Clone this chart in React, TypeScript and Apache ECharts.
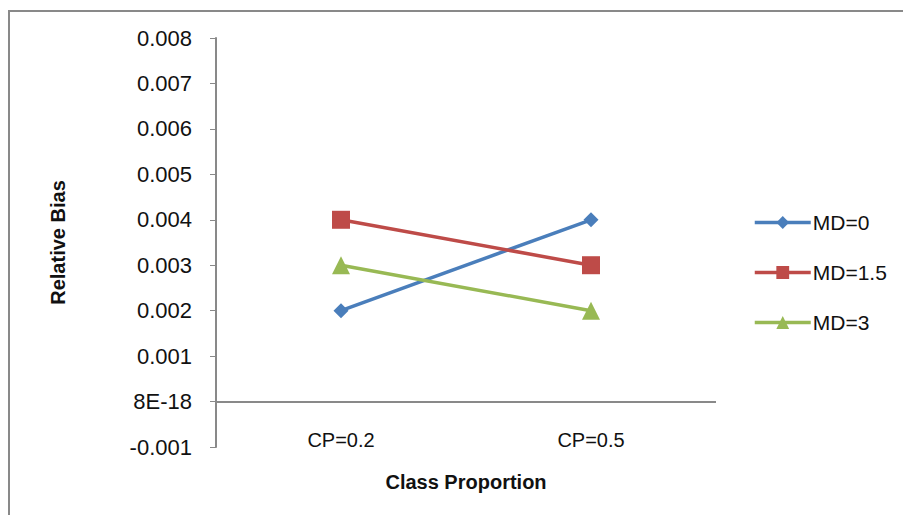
import React, { useEffect, useRef } from "react";
import * as echarts from "echarts";

const categories = ["CP=0.2", "CP=0.5"];
const md0 = [0.002, 0.004];
const md15 = [0.004, 0.003];
const md3 = [0.003, 0.002];
const yTickLabels = ["-0.001", "8E-18", "0.001", "0.002", "0.003", "0.004", "0.005", "0.006", "0.007", "0.008"];
const yMin = -0.001;
const yMax = 0.008;
const yStep = 0.001;

export default function App() {
  const ref = useRef<HTMLDivElement>(null);
  useEffect(() => {
    document.body.style.margin = "0";
    const chart = echarts.init(ref.current!, null, { renderer: "svg" });
    const axisColor = "#898989";
    const textColor = "#111111";
    chart.setOption({
      animation: false,
      backgroundColor: "#ffffff",
      graphic: [
        {
          type: "rect",
          shape: { x: 9, y: 11, width: 1200, height: 800 },
          style: { fill: "none", stroke: axisColor, lineWidth: 2 },
          silent: true,
        },
      ],
      grid: { left: 216, right: 187, top: 38, bottom: 68 },
      legend: {
        orient: "vertical",
        left: 748,
        top: 207,
        itemWidth: 56,
        itemHeight: 16,
        itemGap: 29,
        lineStyle: { width: 3.5 },
        textStyle: {
          fontFamily: "Liberation Sans",
          fontSize: 21,
          lineHeight: 16,
          color: textColor,
          padding: [0, 0, 0, -3],
        },
        data: ["MD=0", "MD=1.5", "MD=3"],
      },
      xAxis: {
        type: "category",
        data: categories,
        boundaryGap: true,
        axisLine: { show: false, onZero: false },
        axisTick: { show: false },
        axisLabel: { margin: -17, fontFamily: "Liberation Sans", fontSize: 20, color: textColor },
        name: "Class Proportion",
        nameLocation: "middle",
        nameGap: 25,
        nameTextStyle: { fontFamily: "Liberation Sans", fontSize: 20, fontWeight: "bold", color: textColor },
      },
      yAxis: {
        type: "value",
        min: yMin,
        max: yMax,
        interval: yStep,
        splitLine: { show: false },
        axisLine: { show: true, lineStyle: { color: axisColor, width: 2 } },
        axisTick: { show: true, inside: false, length: 6, lineStyle: { color: axisColor, width: 1 } },
        axisLabel: {
          margin: 24,
          fontFamily: "Liberation Sans",
          fontSize: 22,
          color: textColor,
          formatter: (v: number) => yTickLabels[Math.round((v - yMin) / yStep)] ?? "",
        },
        name: "Relative Bias",
        nameLocation: "middle",
        nameRotate: 90,
        nameGap: 148,
        nameTextStyle: { fontFamily: "Liberation Sans", fontSize: 20, fontWeight: "bold", color: textColor },
      },
      series: [
        {
          name: "MD=0",
          type: "line",
          data: md0,
          symbol: "diamond",
          symbolSize: 15,
          lineStyle: { color: "#4A7EBB", width: 3.5 },
          itemStyle: { color: "#4A7EBB" },
          markLine: {
            silent: true,
            symbol: "none",
            label: { show: false },
            lineStyle: { color: axisColor, width: 2, type: "solid" },
            data: [{ yAxis: 0 }],
          },
        },
        {
          name: "MD=1.5",
          type: "line",
          data: md15,
          symbol: "rect",
          symbolSize: 18,
          lineStyle: { color: "#BE4B48", width: 3.5 },
          itemStyle: { color: "#BE4B48" },
        },
        {
          name: "MD=3",
          type: "line",
          data: md3,
          symbol: "triangle",
          symbolSize: 18,
          lineStyle: { color: "#98B954", width: 3.5 },
          itemStyle: { color: "#98B954" },
        },
      ],
    });
    return () => chart.dispose();
  }, []);
  return <div ref={ref} style={{ width: 903, height: 515 }} />;
}
